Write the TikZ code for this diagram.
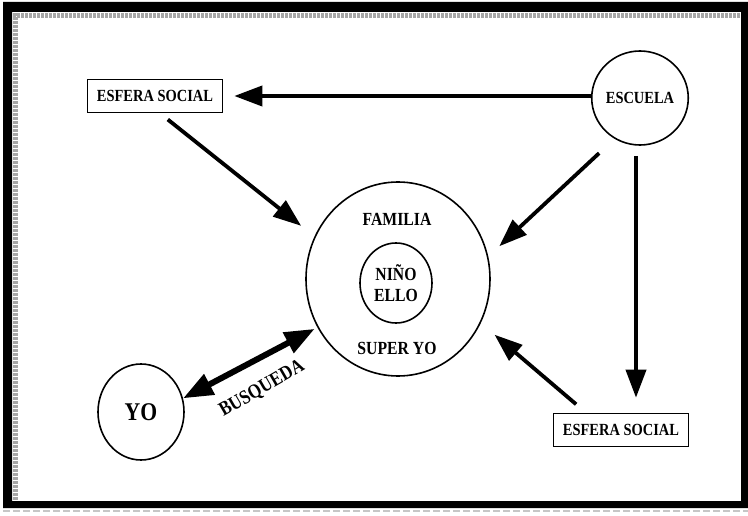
\documentclass[tikz,border=0pt]{standalone}
\usepackage{fontspec}
\setmainfont{Liberation Serif}
\newfontfamily\cf{Liberation Serif}[FakeStretch=0.85]
\usetikzlibrary{arrows.meta,shapes.geometric,calc}
\begin{document}
\begin{tikzpicture}[x=1pt,y=-1pt,
  lbl/.style={font=\cf\bfseries\fontsize{17}{19}\selectfont, inner sep=0pt},
  clbl/.style={font=\cf\bfseries\fontsize{18.5}{21}\selectfont, inner sep=0pt, align=center},
  box/.style={draw, line width=1.6pt, minimum width=135pt, minimum height=33pt, lbl},
  ring/.style={draw, ellipse, line width=1.6pt, inner sep=0pt},
  arr/.style={line width=3.8pt, -{Triangle[length=28pt,width=20pt]}},
  dbl/.style={line width=6pt, {Triangle[length=30pt,width=22pt]}-{Triangle[length=30pt,width=22pt]}}]
\useasboundingbox (0,0) rectangle (748,516);
% frame
\fill[black, even odd rule] (3,2) rectangle (748,508) (12,12) rectangle (741,501);
\draw[gray!70, line width=5pt, dash pattern=on 3pt off 1pt] (13,15.5) -- (741,15.5);
\draw[gray!70, line width=5pt, dash pattern=on 3pt off 1pt] (15.5,13) -- (15.5,501);
\draw[gray!45, line width=2pt, dash pattern=on 7pt off 3pt] (3,511) -- (748,511);
% nodes
\node[box] (es1) at (155,96) {ESFERA SOCIAL};
\node[ring, lbl, minimum width=88pt, minimum height=94pt] (esc) at (640,98) {ESCUELA};
\node[ring, minimum width=184pt, minimum height=194pt] (fam) at (398,279) {};
\node[clbl] (famt) at (397,219) {FAMILIA};
\node[ring, clbl, minimum width=72pt, minimum height=80pt] (nino) at (396,283) {NIÑO\\ELLO};
\node[clbl] (super) at (397,348) {SUPER YO};
\node[ring, minimum width=86pt, minimum height=96pt, font=\cf\bfseries\fontsize{25.5}{28}\selectfont] (yo) at (141,412) {YO};
\node[box] (es2) at (621,430) {ESFERA SOCIAL};
\node[font=\cf\bfseries\fontsize{20}{22}\selectfont, inner sep=0pt, rotate=30] (busq) at (262,389) {BUSQUEDA};
% connectors
\draw[arr, shorten >=11pt] (esc.west |- es1.east) -- (es1.east);
\draw[arr, shorten <=10pt, shorten >=15pt] ($(esc.south)+(-4,0)$) -- ($(esc.south |- es2.north)+(-4,0)$);
\draw[arr, shorten <=21pt, shorten >=15pt] (esc.238) -- (fam.14);
\draw[arr, shorten <=10pt, shorten >=17pt] ($(es1.south)+(5,0)$) -- (fam.153);
\draw[arr, shorten <=13pt, shorten >=18pt] ($(es2.north)+(-35,0)$) -- (fam.332);
\draw[dbl, shorten >=3pt] (yo.18) -- (fam.211);
\end{tikzpicture}
\end{document}
